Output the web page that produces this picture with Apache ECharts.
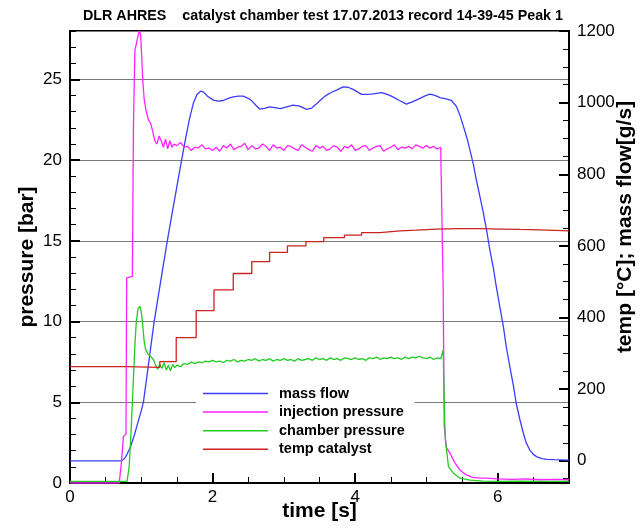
<!DOCTYPE html>
<html><head><meta charset="utf-8">
<script src="https://cdn.jsdelivr.net/npm/echarts@6/dist/echarts.min.js"></script>
<style>html,body{margin:0;padding:0;background:#fff}#c{width:644px;height:528px}</style>
</head><body><div id="c"></div>
<script>
// ---------- data ----------
const titleText = "DLR AHRES    catalyst chamber test 17.07.2013 record 14-39-45 Peak 1";
const seriesNames = ["mass flow", "injection pressure", "chamber pressure", "temp catalyst"];
const rightMajorTicks = [0, 200, 400, 600, 800, 1000, 1200];
const rightMinorTicks = [-50, 50, 100, 150, 250, 300, 350, 450, 500, 550, 650, 700, 750, 850, 900, 950, 1050, 1100, 1150];

const massTime = [0, 0.72, 0.76, 0.80, 0.85, 0.90, 0.95, 1.00, 1.03, 1.08, 1.13, 1.18, 1.24, 1.30, 1.365, 1.43, 1.50, 1.566, 1.62, 1.68, 1.73, 1.78, 1.83, 1.87, 1.93, 2.01, 2.08, 2.15, 2.22, 2.29, 2.36, 2.43, 2.50, 2.55, 2.61, 2.66, 2.73, 2.80, 2.87, 2.95, 3.04, 3.13, 3.22, 3.32, 3.39, 3.46, 3.53, 3.60, 3.67, 3.74, 3.83, 3.90, 3.97, 4.03, 4.09, 4.16, 4.23, 4.30, 4.37, 4.45, 4.53, 4.62, 4.72, 4.81, 4.91, 4.98, 5.05, 5.12, 5.19, 5.26, 5.35, 5.42, 5.47, 5.52, 5.57, 5.61, 5.66, 5.70, 5.75, 5.80, 5.85, 5.89, 5.94, 5.98, 6.03, 6.08, 6.12, 6.17, 6.22, 6.26, 6.31, 6.36, 6.40, 6.45, 6.50, 6.55, 6.62, 6.69, 6.80, 7.0];
const massFlow = [0, 0, 5, 18, 40, 70, 105, 140, 164, 238, 313, 388, 462, 535, 614, 688, 766, 840, 898, 958, 998, 1022, 1032, 1030, 1018, 1007, 1004, 1006, 1012, 1016, 1018, 1018, 1012, 1005, 992, 982, 984, 988, 986, 983, 988, 993, 990, 981, 985, 997, 1010, 1021, 1029, 1035, 1044, 1043, 1037, 1030, 1023, 1023, 1024, 1026, 1028, 1023, 1016, 1006, 996, 1003, 1012, 1019, 1024, 1020, 1014, 1011, 1006, 990, 965, 933, 900, 868, 826, 784, 738, 691, 637, 588, 537, 486, 430, 374, 318, 263, 210, 160, 116, 77, 50, 30, 18, 11, 6, 4, 3, 2];

const injTime = [0, 0.69, 0.72, 0.75, 0.785, 0.795, 0.875, 0.89, 0.91, 0.94, 0.97, 0.99, 1.005, 1.02, 1.04, 1.07, 1.10, 1.13, 1.16, 1.19, 1.22, 1.25, 1.28, 1.31, 1.34, 1.37, 1.40, 1.43, 1.46,
  1.50, 1.55, 1.60, 1.65, 1.70, 1.75, 1.80, 1.85, 1.90, 1.95, 2.00, 2.05, 2.10, 2.15, 2.20, 2.25, 2.30, 2.35, 2.40, 2.45, 2.50, 2.55, 2.60, 2.65, 2.70, 2.75, 2.80, 2.85, 2.90, 2.95, 3.00, 3.05, 3.10, 3.15, 3.20, 3.25, 3.30, 3.35, 3.40, 3.45, 3.50, 3.55, 3.60, 3.65, 3.70, 3.75, 3.80, 3.85, 3.90, 3.95, 4.00, 4.05, 4.10, 4.15, 4.20, 4.25, 4.30, 4.35, 4.40, 4.45, 4.50, 4.55, 4.60, 4.65, 4.70, 4.75, 4.80, 4.85, 4.90, 4.95, 5.00, 5.05, 5.10, 5.15, 5.20,
  5.22, 5.235, 5.25, 5.28, 5.33, 5.40, 5.47, 5.56, 5.65, 5.75, 5.85, 6.0, 6.2, 6.4, 6.6, 6.8, 7.0];
const injPressure = [0, 0, 1.2, 2.9, 3.0, 12.7, 12.8, 22, 26.8, 27.4, 28.0, 27.8, 26.5, 25.0, 23.8, 23.0, 22.5, 22.3, 21.8, 21.2, 21.0, 21.5, 21.2, 20.8, 21.3, 20.7, 21.2, 20.8, 21.0,
  20.9, 21.1, 20.8, 20.85, 20.6, 20.8, 20.75, 20.95, 20.7, 20.75, 20.6, 20.8, 20.55, 20.9, 20.75, 21.0, 20.65, 20.8, 20.85, 21.05, 20.65, 20.9, 20.7, 20.75, 21.0, 20.85, 20.6, 20.95, 20.75, 20.8, 20.6, 20.9, 20.85, 20.7, 20.6, 20.95, 20.8, 20.65, 20.55, 20.9, 20.75, 20.85, 20.6, 20.7, 20.9, 20.8, 20.55, 20.85, 20.75, 20.95, 20.6, 20.7, 20.85, 20.9, 20.6, 20.75, 20.85, 20.9, 20.55, 20.7, 20.8, 20.95, 20.65, 20.8, 20.75, 20.85, 20.7, 20.95, 20.85, 20.75, 20.9, 20.75, 20.85, 20.7, 20.8,
  20.7, 12, 3.5, 2.2, 1.85, 1.24, 0.8, 0.5, 0.35, 0.3, 0.3, 0.25, 0.22, 0.25, 0.2, 0.22, 0.2];

const chTime = [0, 0.80, 0.83, 0.86, 0.89, 0.91, 0.93, 0.955, 0.98, 1.00, 1.02, 1.04, 1.06, 1.09, 1.11, 1.14, 1.17, 1.20, 1.23, 1.26, 1.29, 1.32, 1.35, 1.38, 1.41, 1.44, 1.47,
  1.50, 1.55, 1.60, 1.65, 1.70, 1.75, 1.80, 1.85, 1.90, 1.95, 2.00, 2.05, 2.10, 2.15, 2.20, 2.25, 2.30, 2.35, 2.40, 2.45, 2.50, 2.55, 2.60, 2.65, 2.70, 2.75, 2.80, 2.85, 2.90, 2.95, 3.00, 3.05, 3.10, 3.15, 3.20, 3.25, 3.30, 3.35, 3.40, 3.45, 3.50, 3.55, 3.60, 3.65, 3.70, 3.75, 3.80, 3.85, 3.90, 3.95, 4.00, 4.05, 4.10, 4.15, 4.20, 4.25, 4.30, 4.35, 4.40, 4.45, 4.50, 4.55, 4.60, 4.65, 4.70, 4.75, 4.80, 4.85, 4.90, 4.95, 5.00, 5.05, 5.10, 5.15, 5.20,
  5.22, 5.235, 5.25, 5.265, 5.31, 5.38, 5.47, 5.61, 5.80, 6.0, 6.3, 6.6, 7.0];
const chPressure = [0.1, 0.1, 1.0, 3.5, 6.5, 8.5, 10.0, 10.8, 10.95, 10.6, 9.8, 8.8, 8.3, 8.0, 7.9, 7.8, 7.65, 7.3, 7.05, 7.35, 7.1, 7.45, 7.0, 7.3, 6.95, 7.35, 7.15,
  7.3, 7.2, 7.4, 7.35, 7.5, 7.4, 7.5, 7.45, 7.55, 7.5, 7.6, 7.5, 7.55, 7.45, 7.6, 7.55, 7.65, 7.5, 7.6, 7.55, 7.65, 7.6, 7.7, 7.55, 7.65, 7.6, 7.7, 7.55, 7.65, 7.6, 7.7, 7.6, 7.65, 7.55, 7.7, 7.6, 7.65, 7.7, 7.6, 7.75, 7.65, 7.7, 7.6, 7.75, 7.65, 7.7, 7.6, 7.75, 7.7, 7.65, 7.75, 7.65, 7.7, 7.6, 7.75, 7.7, 7.8, 7.65, 7.75, 7.7, 7.8, 7.7, 7.75, 7.65, 7.8, 7.7, 7.8, 7.75, 7.85, 7.75, 7.7, 7.8, 7.65, 7.75, 7.7,
  7.7, 8.25, 5.0, 2.7, 1.0, 0.6, 0.3, 0.18, 0.12, 0.1, 0.12, 0.1, 0.1];

const tempTime = [0, 0.80, 0.80, 1.26, 1.26, 1.49, 1.49, 1.77, 1.77, 2.02, 2.02, 2.29, 2.29, 2.55, 2.55, 2.80, 2.80, 3.05, 3.05, 3.31, 3.31, 3.56, 3.56, 3.85, 3.85, 4.09, 4.09, 4.35, 4.35, 4.63, 4.86, 5.14, 5.45, 5.75, 6.05, 6.31, 6.60, 7.0];
const tempCatalyst = [263, 263, 261, 261, 277, 277, 344, 344, 419, 419, 477, 477, 523, 523, 556, 556, 582, 582, 600, 600, 612, 612, 623, 623, 630, 630, 637, 637, 640, 642, 644, 647, 648, 648, 647, 646, 645, 642];

// ---------- chart ----------
const zip = (a, b) => a.map((t, i) => [t, b[i]]);
const FONT = "Liberation Sans, Arial, Helvetica, sans-serif";
const colors = ["#3c3cff", "#ff22ff", "#22cc22", "#cc2222"];

const chart = echarts.init(document.getElementById('c'), null, {renderer: 'canvas'});
const tickLbl = {color: '#000', fontSize: 17, fontFamily: FONT, formatter: v => String(v)};
const nameStyle = {color: '#000', fontSize: 21, fontWeight: 'bold', fontFamily: FONT};

chart.setOption({
  animation: false,
  backgroundColor: '#fff',
  color: colors,
  title: {
    text: titleText, left: 78, top: 4,
    textStyle: {color: '#000', fontSize: 14.3, fontWeight: 'bold', fontFamily: FONT}
  },
  grid: {left: 70, right: 75, top: 31, bottom: 45, outerBoundsMode: 'none', containLabel: false,
         show: true, borderColor: '#000', borderWidth: 2, backgroundColor: 'transparent'},
  legend: {
    data: seriesNames, orient: 'vertical', left: 196, top: 384,
    backgroundColor: '#fff', padding: [2, 10, 2, 7], itemGap: 3.6,
    icon: 'rect', itemWidth: 65, itemHeight: 1.5,
    textStyle: {color: '#000', fontSize: 14.5, fontWeight: 'bold', fontFamily: FONT, padding: [0, 0, 0, 6], height: 14, lineHeight: 14}
  },
  xAxis: [
    {type: 'value', position: 'bottom', min: 0, max: 7, interval: 2,
     name: 'time [s]', nameLocation: 'middle', nameGap: 18, nameMoveOverlap: false, nameTextStyle: nameStyle,
     axisLine: {show: true, lineStyle: {color: '#000', width: 2}},
     axisTick: {show: true, inside: true, length: 10, lineStyle: {color: '#000', width: 2}},
     axisLabel: Object.assign({margin: 6, showMaxLabel: false}, tickLbl),
     splitLine: {show: false}},
    {type: 'value', position: 'bottom', min: 0, max: 7, interval: 0.5,
     axisLine: {show: false}, axisLabel: {show: false}, splitLine: {show: false},
     axisTick: {show: true, inside: true, length: 6, lineStyle: {color: '#000', width: 1}}}
  ],
  yAxis: [
    {type: 'value', position: 'left', min: 0, max: 28, interval: 5,
     name: 'pressure [bar]', nameLocation: 'middle', nameGap: 32, nameMoveOverlap: false, nameTextStyle: nameStyle,
     axisLine: {show: true, lineStyle: {color: '#000', width: 2}},
     axisTick: {show: true, inside: true, length: 10, lineStyle: {color: '#000', width: 2}},
     axisLabel: Object.assign({margin: 8, showMaxLabel: false}, tickLbl),
     splitLine: {show: true, lineStyle: {color: '#7a7a7a', width: 1}}},
    {type: 'value', position: 'left', min: 0, max: 28, interval: 1,
     axisLine: {show: false}, axisLabel: {show: false}, splitLine: {show: false},
     axisTick: {show: true, inside: true, length: 6, lineStyle: {color: '#000', width: 1}}},
    {type: 'value', position: 'right', min: -62, max: 1200,
     name: 'temp [°C]; mass flow[g/s]', nameLocation: 'middle', nameGap: 46, nameRotate: 90, nameMoveOverlap: false,
     nameTextStyle: Object.assign({padding: [0, 0, 0, 60]}, nameStyle),
     axisLine: {show: true, lineStyle: {color: '#000', width: 2}},
     axisTick: {show: true, inside: true, length: 10, customValues: rightMajorTicks, lineStyle: {color: '#000', width: 2}},
     axisLabel: Object.assign({margin: 8, customValues: rightMajorTicks}, tickLbl),
     splitLine: {show: false}},
    {type: 'value', position: 'right', min: -62, max: 1200,
     axisLine: {show: false}, axisLabel: {show: false}, splitLine: {show: false},
     axisTick: {show: true, inside: true, length: 6, customValues: rightMinorTicks, lineStyle: {color: '#000', width: 1}}}
  ],
  series: [
    {name: seriesNames[0], type: 'line', yAxisIndex: 2, symbol: 'none', data: zip(massTime, massFlow), lineStyle: {width: 1.3}},
    {name: seriesNames[1], type: 'line', yAxisIndex: 0, symbol: 'none', data: zip(injTime, injPressure), lineStyle: {width: 1.3}},
    {name: seriesNames[2], type: 'line', yAxisIndex: 0, symbol: 'none', data: zip(chTime, chPressure), lineStyle: {width: 1.3}},
    {name: seriesNames[3], type: 'line', yAxisIndex: 2, symbol: 'none', data: zip(tempTime, tempCatalyst), lineStyle: {width: 1.3}}
  ]
});
</script></body></html>
